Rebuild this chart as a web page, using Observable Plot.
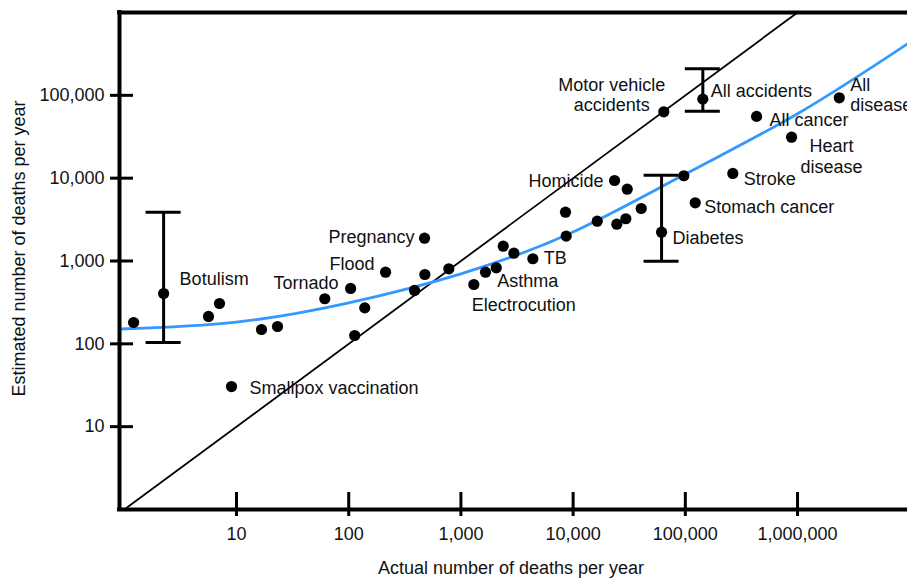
<!DOCTYPE html>
<html>
<head>
<meta charset="utf-8">
<script src="https://cdn.jsdelivr.net/npm/d3@7"></script>
<script src="https://cdn.jsdelivr.net/npm/@observablehq/plot@0.6"></script>
<style>
  html, body { margin: 0; padding: 0; background: #fff; }
</style>
</head>
<body>
<div id="chart"></div>
<script>
// ---- Data ----
const names = [
  "", "Botulism", "", "", "", "", "Smallpox vaccination", "", "Tornado", "", "",
  "Flood", "Pregnancy", "", "", "", "Electrocution", "", "Asthma", "", "", "TB",
  "", "", "", "", "", "", "Homicide", "", "Diabetes", "", "Stroke", "Stomach cancer",
  "Motor vehicle\naccidents", "All accidents", "All cancer", "Heart\ndisease", "All\ndisease"
];
const actual = [
  1.21, 2.24, 5.63, 7.05, 16.7, 23.2, 9.02, 61.2, 104, 139, 113,
  213, 474, 386, 477, 780, 1303, 1656, 2065, 2383, 2965, 4375,
  8550, 8670, 16400, 24500, 29500, 40450, 23400, 30350, 61400, 97000, 265000, 122500,
  64300, 143200, 431500, 885000, 2355000
];
const estimated = [
  181, 405, 214, 307, 149, 162, 30.5, 350, 466, 272, 126,
  733, 1885, 441, 687, 805, 520, 733, 828, 1510, 1242, 1064,
  3885, 1995, 3025, 2780, 3235, 4305, 9375, 7360, 2228, 10690, 11400, 5045,
  63300, 89900, 55700, 31250, 93300
];

// error bars
const errActual = [2.24, 61400, 143200];
const errLow = [104, 995, 64400];
const errHigh = [3885, 10870, 209400];

// fitted curve, read along its path
const curveActual = [0.906, 10, 100, 1000, 10000, 100000, 1000000, 9550000];
const curveEstimated = [151, 183, 313, 700, 2240, 11200, 60000, 419000];

// identity line (estimated = actual)
const identityValues = [1, 1000000];

const xTicks = [10, 100, 1000, 10000, 100000, 1000000];
const yTicks = [10, 100, 1000, 10000, 100000];
const xDomain = [0.906, 9550000];
const yDomain = [1, 1000000];

const xTitle = "Actual number of deaths per year";
const yTitle = "Estimated number of deaths per year";

// ---- Build tables ----
const points = names.map((n, i) => ({name: n, actual: actual[i], estimated: estimated[i]}));
const errors = errActual.map((a, i) => ({actual: a, low: errLow[i], high: errHigh[i]}));
const curve = curveActual.map((a, i) => ({actual: a, estimated: curveEstimated[i]}));
const identity = identityValues.map(v => ({actual: v, estimated: v}));

// label placement (annotation layout)
const labelLayout = {
  "Botulism": [16, -15, "start"],
  "Smallpox vaccination": [18, 1, "start"],
  "Tornado": [-12, -6, "end"],
  "Flood": [-11, -9, "end"],
  "Pregnancy": [-10, -2, "end"],
  "Electrocution": [-2, 20, "start"],
  "Asthma": [1, 13, "start"],
  "TB": [11, -1, "start"],
  "Homicide": [-11, 0, "end"],
  "Diabetes": [11, 5, "start"],
  "Stroke": [11, 4.5, "start"],
  "Stomach cancer": [9, 3.5, "start"],
  "Motor vehicle\naccidents": [-52, -17.5, "middle"],
  "All accidents": [8, -9, "start"],
  "All cancer": [13, 3, "start"],
  "Heart\ndisease": [40, 18.5, "middle"],
  "All\ndisease": [11, -3.5, "start"]
};

const font = "'Liberation Sans', Arial, Helvetica, sans-serif";
const fmt = d3.format(",");

const labelMarks = points.filter(p => p.name).map(p => {
  const [dx, dy, anchor] = labelLayout[p.name];
  return Plot.text([p], {
    x: "actual", y: "estimated", text: "name",
    dx, dy, textAnchor: anchor, lineAnchor: "middle", lineHeight: 1.15,
    fontSize: 18, fill: "#111"
  });
});

const chart = Plot.plot({
  width: 907,
  height: 580,
  marginLeft: 119,
  marginRight: 0,
  marginTop: 12,
  marginBottom: 71,
  style: {fontFamily: font, fontSize: "18px", color: "#000", background: "#fff", overflow: "visible"},
  x: {type: "log", domain: xDomain, axis: null},
  y: {type: "log", domain: yDomain, axis: null},
  marks: [
    Plot.line(identity, {x: "actual", y: "estimated", stroke: "#000", strokeWidth: 1.8}),
    Plot.line(curve, {x: "actual", y: "estimated", stroke: "#3399ff", strokeWidth: 2.8, curve: "natural"}),
    Plot.ruleX(errors, {x: "actual", y1: "low", y2: "high", stroke: "#000", strokeWidth: 3}),
    Plot.ruleY(errors, {y: "low", x1: "actual", x2: "actual", insetLeft: -17.5, insetRight: -17.5, stroke: "#000", strokeWidth: 3}),
    Plot.ruleY(errors, {y: "high", x1: "actual", x2: "actual", insetLeft: -17.5, insetRight: -17.5, stroke: "#000", strokeWidth: 3}),
    Plot.dot(points, {x: "actual", y: "estimated", r: 5.6, fill: "#000"}),
    ...labelMarks,
    // ticks crossing the axes
    Plot.axisX(xTicks, {tickSize: 24, dy: -17, strokeWidth: 3, fill: "none", label: null}),
    Plot.axisY(yTicks, {tickSize: 23, dx: 14, strokeWidth: 3, fill: "none", label: null}),
    // tick labels
    Plot.axisX(xTicks, {tickSize: 0, tickPadding: 18, tickFormat: fmt, fontSize: 18, fill: "#111", label: null}),
    Plot.axisY(yTicks, {tickSize: 0, tickPadding: 15, tickFormat: fmt, fontSize: 18, fill: "#111", label: null}),
    // frame: left, bottom, top
    Plot.ruleX([xDomain[0]], {stroke: "#000", strokeWidth: 4, strokeLinecap: "square"}),
    Plot.ruleY(yDomain, {stroke: "#000", strokeWidth: 4, strokeLinecap: "square"}),
    // axis titles
    Plot.text([xTitle], {text: d => d, frameAnchor: "bottom", textAnchor: "middle", lineAnchor: "middle", dx: -2.5, dy: 59, fontSize: 18, fill: "#111"}),
    Plot.text([yTitle], {text: d => d, frameAnchor: "left", textAnchor: "middle", lineAnchor: "middle", rotate: -90, dx: -100, dy: -12.5, fontSize: 18, fill: "#111"})
  ]
});

document.getElementById("chart").appendChild(chart);
</script>
</body>
</html>
